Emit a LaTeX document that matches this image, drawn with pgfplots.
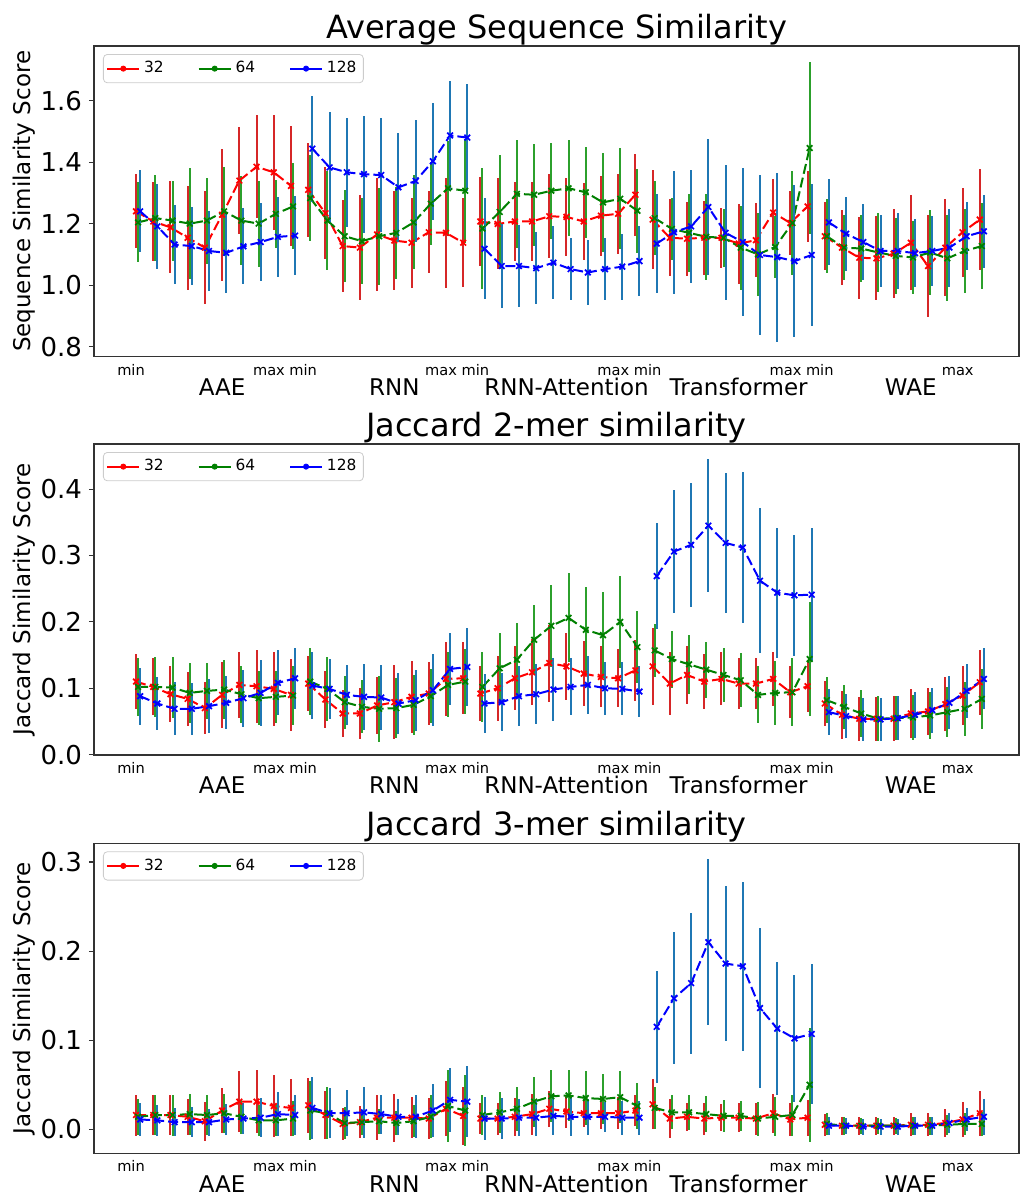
\documentclass[border=0pt]{standalone}
\usepackage{pgfplots}
\pgfplotsset{compat=1.18}
\usepackage{pgfplotstable}
\usepackage{fontspec}
\setmainfont{DejaVu Sans}

\definecolor{tabred}{HTML}{D62728}
\definecolor{tabgreen}{HTML}{2CA02C}
\definecolor{tabblue}{HTML}{1F77B4}
\definecolor{pr}{HTML}{FF0000}
\definecolor{pg}{HTML}{008000}
\definecolor{pb}{HTML}{0000FF}

\pgfplotstableread{
k r re g ge b be
0 1.240 0.120 1.204 0.130 1.240 0.133
1 1.207 0.130 1.218 0.140 1.191 0.137
2 1.188 0.150 1.210 0.130 1.132 0.128
3 1.154 0.170 1.200 0.180 1.127 0.127
4 1.122 0.185 1.210 0.140 1.111 0.130
5 1.229 0.215 1.240 0.145 1.105 0.130
6 1.340 0.175 1.210 0.145 1.126 0.124
7 1.385 0.167 1.200 0.140 1.140 0.127
8 1.367 0.187 1.232 0.110 1.157 0.130
9 1.323 0.195 1.256 0.140 1.161 0.128
9.5 nan nan nan nan nan nan
10 1.310 0.153 1.283 0.140 1.444 0.172
11 1.234 0.150 1.210 0.160 1.383 0.180
12 1.127 0.150 1.159 0.150 1.367 0.177
13 1.122 0.170 1.143 0.140 1.361 0.190
14 1.165 0.185 1.159 0.158 1.358 0.185
15 1.145 0.160 1.170 0.150 1.318 0.177
16 1.138 0.147 1.204 0.153 1.339 0.198
17 1.172 0.133 1.265 0.134 1.403 0.190
18 1.170 0.180 1.315 0.155 1.487 0.178
19 1.138 0.145 1.307 0.170 1.480 0.174
19.5 nan nan nan nan nan nan
20 1.207 0.145 1.184 0.197 1.118 0.164
21 1.199 0.148 1.238 0.185 1.062 0.137
22 1.207 0.130 1.297 0.175 1.062 0.134
23 1.207 0.130 1.294 0.166 1.055 0.118
24 1.224 0.137 1.307 0.156 1.073 0.118
25 1.222 0.126 1.315 0.156 1.052 0.102
26 1.207 0.125 1.302 0.148 1.041 0.106
27 1.226 0.130 1.269 0.160 1.052 0.100
28 1.232 0.130 1.281 0.164 1.060 0.107
29 1.294 0.134 1.242 0.137 1.078 0.113
29.5 nan nan nan nan nan nan
30 1.213 0.160 1.218 0.120 1.135 0.160
31 1.154 0.126 1.183 0.100 1.172 0.200
32 1.151 0.120 1.170 0.126 1.191 0.183
33 1.154 0.120 1.157 0.140 1.254 0.220
34 1.154 0.097 1.154 0.094 1.170 0.220
35 1.135 0.130 1.122 0.137 1.140 0.240
36 1.146 0.120 1.100 0.134 1.098 0.260
37 1.236 0.110 1.124 0.100 1.091 0.275
38 1.202 0.105 1.202 0.170 1.078 0.247
39 1.256 0.115 1.446 0.280 1.098 0.230
39.5 nan nan nan nan nan nan
40 1.159 0.110 1.159 0.120 1.204 0.140
41 1.122 0.123 1.122 0.107 1.167 0.120
42 1.089 0.133 1.119 0.110 1.140 0.125
43 1.087 0.137 1.106 0.130 1.111 0.118
44 1.102 0.145 1.095 0.124 1.111 0.125
45 1.138 0.155 1.090 0.120 1.104 0.110
46 1.062 0.167 1.106 0.137 1.111 0.114
47 1.122 0.158 1.087 0.140 1.122 0.127
48 1.172 0.145 1.111 0.137 1.159 0.110
49 1.213 0.165 1.127 0.139 1.175 0.118
}\tabA

\pgfplotstableread{
k r re g ge b be
0 0.110 0.041 0.102 0.044 0.088 0.043
1 0.102 0.043 0.102 0.045 0.077 0.040
2 0.091 0.042 0.101 0.046 0.069 0.040
3 0.084 0.041 0.093 0.045 0.069 0.039
4 0.070 0.039 0.096 0.042 0.073 0.041
5 0.090 0.050 0.098 0.045 0.078 0.040
6 0.105 0.050 0.091 0.043 0.085 0.043
7 0.103 0.055 0.085 0.041 0.093 0.050
8 0.099 0.056 0.087 0.039 0.108 0.049
9 0.090 0.054 0.089 0.044 0.115 0.046
9.5 nan nan nan nan nan nan
10 0.107 0.042 0.110 0.050 0.104 0.051
11 0.083 0.043 0.099 0.048 0.099 0.045
12 0.062 0.036 0.079 0.040 0.090 0.045
13 0.062 0.039 0.072 0.040 0.087 0.050
14 0.074 0.043 0.069 0.050 0.086 0.049
15 0.079 0.056 0.070 0.045 0.077 0.046
16 0.087 0.054 0.075 0.045 0.082 0.046
17 0.092 0.047 0.088 0.041 0.097 0.054
18 0.114 0.056 0.105 0.049 0.129 0.054
19 0.115 0.054 0.110 0.049 0.132 0.059
19.5 nan nan nan nan nan nan
20 0.092 0.042 0.102 0.053 0.077 0.045
21 0.100 0.049 0.130 0.053 0.079 0.044
22 0.115 0.048 0.143 0.055 0.088 0.045
23 0.124 0.050 0.173 0.052 0.091 0.045
24 0.138 0.058 0.194 0.062 0.098 0.048
25 0.133 0.050 0.206 0.067 0.102 0.043
26 0.122 0.049 0.188 0.065 0.105 0.044
27 0.117 0.046 0.180 0.065 0.100 0.040
28 0.115 0.044 0.200 0.069 0.099 0.040
29 0.127 0.046 0.162 0.054 0.095 0.038
29.5 nan nan nan nan nan nan
30 0.133 0.058 0.157 0.040 0.269 0.080
31 0.107 0.047 0.144 0.043 0.306 0.093
32 0.120 0.044 0.136 0.044 0.316 0.094
33 0.110 0.042 0.128 0.042 0.345 0.100
34 0.114 0.040 0.120 0.040 0.319 0.105
35 0.107 0.039 0.112 0.041 0.312 0.114
36 0.107 0.039 0.090 0.043 0.262 0.109
37 0.114 0.041 0.093 0.048 0.244 0.098
38 0.094 0.039 0.094 0.051 0.240 0.091
39 0.103 0.039 0.144 0.086 0.241 0.100
39.5 nan nan nan nan nan nan
40 0.077 0.034 0.082 0.035 0.064 0.035
41 0.060 0.036 0.072 0.033 0.058 0.033
42 0.054 0.033 0.062 0.035 0.053 0.033
43 0.054 0.033 0.054 0.034 0.053 0.033
44 0.054 0.034 0.055 0.033 0.055 0.033
45 0.062 0.037 0.056 0.034 0.060 0.035
46 0.065 0.036 0.059 0.036 0.067 0.034
47 0.076 0.041 0.064 0.038 0.078 0.040
48 0.089 0.045 0.069 0.041 0.096 0.041
49 0.109 0.049 0.084 0.045 0.114 0.046
}\tabB

\pgfplotstableread{
k r re g ge b be
0 0.016 0.023 0.014 0.020 0.011 0.018
1 0.016 0.022 0.016 0.022 0.010 0.017
2 0.016 0.022 0.016 0.023 0.008 0.016
3 0.014 0.020 0.017 0.023 0.008 0.017
4 0.009 0.022 0.016 0.022 0.008 0.015
5 0.021 0.025 0.018 0.022 0.011 0.017
6 0.031 0.034 0.014 0.019 0.012 0.017
7 0.031 0.035 0.010 0.017 0.013 0.022
8 0.026 0.035 0.010 0.018 0.017 0.025
9 0.024 0.032 0.012 0.020 0.016 0.022
9.5 nan nan nan nan nan nan
10 0.027 0.031 0.021 0.033 0.024 0.035
11 0.016 0.027 0.018 0.029 0.018 0.028
12 0.006 0.018 0.007 0.018 0.018 0.026
13 0.008 0.018 0.008 0.014 0.019 0.029
14 0.013 0.025 0.009 0.014 0.017 0.022
15 0.013 0.027 0.007 0.013 0.014 0.020
16 0.013 0.023 0.009 0.018 0.014 0.024
17 0.012 0.023 0.014 0.024 0.021 0.030
18 0.023 0.031 0.026 0.040 0.033 0.036
19 0.015 0.033 0.021 0.040 0.031 0.040
19.5 nan nan nan nan nan nan
20 0.012 0.017 0.016 0.022 0.012 0.024
21 0.012 0.018 0.019 0.023 0.012 0.023
22 0.014 0.021 0.023 0.025 0.013 0.021
23 0.017 0.023 0.031 0.028 0.013 0.020
24 0.023 0.020 0.037 0.029 0.015 0.021
25 0.020 0.019 0.038 0.029 0.014 0.022
26 0.018 0.016 0.035 0.030 0.014 0.020
27 0.018 0.018 0.034 0.028 0.014 0.017
28 0.018 0.018 0.036 0.029 0.013 0.019
29 0.021 0.017 0.026 0.026 0.013 0.019
29.5 nan nan nan nan nan nan
30 0.028 0.028 0.024 0.024 0.115 0.063
31 0.012 0.022 0.019 0.019 0.147 0.074
32 0.014 0.016 0.019 0.020 0.164 0.079
33 0.012 0.018 0.017 0.020 0.210 0.093
34 0.013 0.015 0.015 0.018 0.186 0.087
35 0.013 0.016 0.015 0.017 0.183 0.095
36 0.012 0.018 0.012 0.019 0.136 0.090
37 0.018 0.022 0.014 0.022 0.113 0.075
38 0.011 0.018 0.016 0.023 0.102 0.071
39 0.013 0.020 0.050 0.064 0.107 0.079
39.5 nan nan nan nan nan nan
40 0.005 0.012 0.006 0.012 0.004 0.010
41 0.004 0.010 0.004 0.010 0.004 0.009
42 0.004 0.010 0.004 0.009 0.003 0.009
43 0.004 0.010 0.004 0.009 0.003 0.009
44 0.004 0.010 0.004 0.009 0.003 0.009
45 0.005 0.013 0.004 0.010 0.004 0.010
46 0.005 0.013 0.004 0.010 0.004 0.010
47 0.007 0.016 0.005 0.011 0.007 0.011
48 0.011 0.020 0.006 0.012 0.011 0.013
49 0.018 0.025 0.006 0.013 0.014 0.020
}\tabC

\pgfplotsset{
  panel/.style={
    scale only axis, width=462.5pt,
    xmin=-2.44, xmax=51.28,
    unbounded coords=jump,
    axis line style={black!80, line width=0.6pt},
    xtick={-0.29,7.72,9.71,17.72,19.71,27.72,29.71,37.72,39.71,47.72},
    xticklabels={min,max,min,max,min,max,min,max,min,max},
    xticklabel style={font=\fontsize{7.3}{8}\selectfont, inner sep=1pt, text height=5.5pt, text depth=0pt, yshift=0pt},
    xtick style={draw=none},
    extra x ticks={5,15,25,35,45},
    extra x tick labels={AAE,RNN,RNN-Attention,Transformer,WAE},
    extra x tick style={xtick style={draw=none}, xticklabel style={font=\fontsize{11.5}{13}\selectfont, text height=8.5pt, text depth=2.5pt, yshift=-7.2pt}},
    ytick pos=left, tick align=outside, major tick length=2.5pt,
    ytick style={black!80, line width=0.6pt},
    yticklabel style={font=\fontsize{13}{15}\selectfont},
    /pgf/number format/fixed, /pgf/number format/fixed zerofill, /pgf/number format/precision=1,
    /pgf/number format/assume math mode=true,
    every axis title/.style={font=\fontsize{16}{19}\selectfont, at={(0.5,1)}, anchor=base, yshift=4pt},
    ylabel style={font=\fontsize{11.5}{13}\selectfont, at={(axis description cs:-0.075,0.5)}, anchor=center},
    legend style={at={(0,1)}, anchor=north west, xshift=4.5pt, yshift=-4pt, draw=black!20, rounded corners=2pt, font=\fontsize{7.7}{9}\selectfont, inner sep=1.5pt, /tikz/every even column/.append style={column sep=15pt}},
    legend columns=3,
    legend cell align=left,
    legend image code/.code={\draw[#1, line width=0.9pt] (0pt,0pt) -- (16pt,0pt); \fill[#1] (8pt,0pt) circle (1.3pt);},
  },
  ser/.style={line width=1pt, dash pattern=on 5pt off 2pt, mark=x, mark size=2pt, mark options={solid, line width=0.85pt},
    error bars/y dir=both, error bars/y explicit, error bars/error mark=none,
    error bars/error bar style={solid, line width=1pt, #1}},
}

\begin{document}
\begin{tikzpicture}
\path[use as bounding box] (0,0) rectangle (510pt,-598pt);

\begin{axis}[panel, at={(47pt,-23pt)}, anchor=north west, height=155.35pt,
  ymin=0.767, ymax=1.778, ytick={0.8,1.0,1.2,1.4,1.6},
  title={Average Sequence Similarity}, ylabel={Sequence Similarity Score}]
\addlegendimage{pr}\addlegendentry{32}
\addlegendimage{pg}\addlegendentry{64}
\addlegendimage{pb}\addlegendentry{128}
\addplot[forget plot, pr, ser=tabred] table[x=k, y=r, y error=re] {\tabA};
\addplot[forget plot, pg, ser=tabgreen] table[x expr=\thisrow{k}+0.12, y=g, y error=ge] {\tabA};
\addplot[forget plot, pb, ser=tabblue] table[x expr=\thisrow{k}+0.24, y=b, y error=be] {\tabA};
\end{axis}

\begin{axis}[panel, at={(47pt,-222pt)}, anchor=north west, height=155.5pt,
  ymin=-0.0006, ymax=0.468, ytick={0,0.1,0.2,0.3,0.4},
  title={Jaccard 2-mer similarity}, ylabel={Jaccard Similarity Score}]
\addlegendimage{pr}\addlegendentry{32}
\addlegendimage{pg}\addlegendentry{64}
\addlegendimage{pb}\addlegendentry{128}
\addplot[forget plot, pr, ser=tabred] table[x=k, y=r, y error=re] {\tabB};
\addplot[forget plot, pg, ser=tabgreen] table[x expr=\thisrow{k}+0.12, y=g, y error=ge] {\tabB};
\addplot[forget plot, pb, ser=tabblue] table[x expr=\thisrow{k}+0.24, y=b, y error=be] {\tabB};
\end{axis}

\begin{axis}[panel, at={(47pt,-421.65pt)}, anchor=north west, height=155pt,
  ymin=-0.027, ymax=0.321, ytick={0,0.1,0.2,0.3},
  title={Jaccard 3-mer similarity}, ylabel={Jaccard Similarity Score}]
\addlegendimage{pr}\addlegendentry{32}
\addlegendimage{pg}\addlegendentry{64}
\addlegendimage{pb}\addlegendentry{128}
\addplot[forget plot, pr, ser=tabred] table[x=k, y=r, y error=re] {\tabC};
\addplot[forget plot, pg, ser=tabgreen] table[x expr=\thisrow{k}+0.12, y=g, y error=ge] {\tabC};
\addplot[forget plot, pb, ser=tabblue] table[x expr=\thisrow{k}+0.24, y=b, y error=be] {\tabC};
\end{axis}
\end{tikzpicture}
\end{document}
